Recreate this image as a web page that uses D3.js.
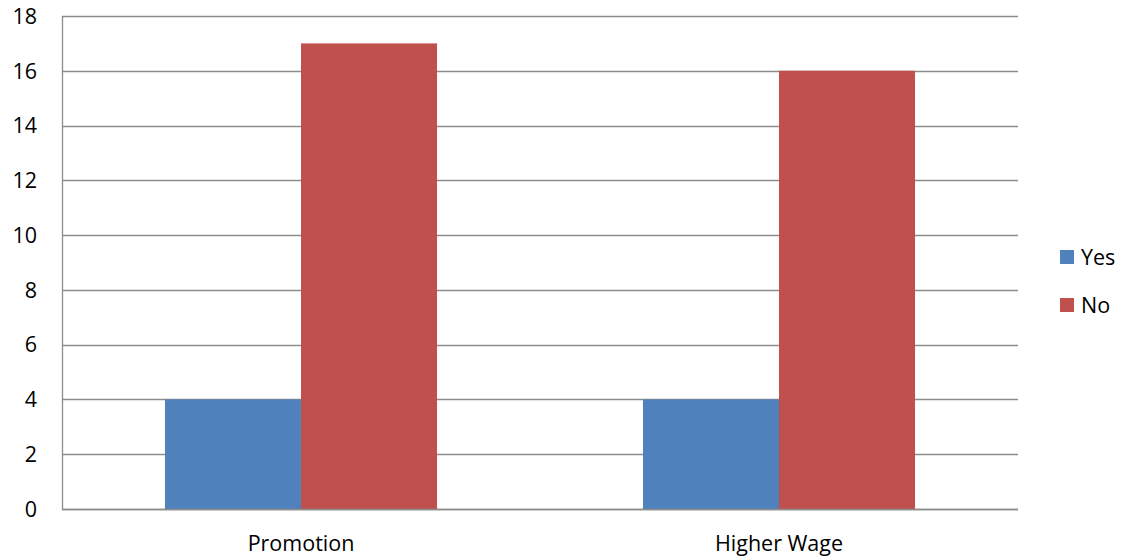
<!DOCTYPE html>
<html><head><meta charset="utf-8">
<script src="https://cdn.jsdelivr.net/npm/d3@7"></script>
<style>body{margin:0;background:#fff}svg{display:block}text{font-family:"Open Sans",Lato,sans-serif;fill:#000;font-variant-ligatures:none}</style>
</head><body><svg id="c" width="1122" height="560"></svg>
<script>
const categories = ["Promotion", "Higher Wage"];
const seriesNames = ["Yes", "No"];
const yesValues = [4, 4];
const noValues = [17, 16];
const yTicks = [0, 2, 4, 6, 8, 10, 12, 14, 16, 18];
const colors = ["#4F81BD", "#C0504D"];

const svg = d3.select("#c");
const L = 62, R = 1018, T = 16, B = 509;
const FS = "21.5px";
const x = d3.scaleBand().domain(categories).range([L, R]).paddingInner(0).paddingOuter(0);
const x1 = d3.scaleBand().domain(seriesNames).range([0, x.bandwidth()]).paddingInner(0).paddingOuter(0.757);
const y = d3.scaleLinear().domain([0, 18]).range([B, T]);
const data = categories.map((c, i) => ({cat: c, vals: [yesValues[i], noValues[i]]}));

// gridlines
svg.append("g").selectAll("line").data(yTicks).join("line")
  .attr("x1", L).attr("x2", R).attr("y1", d => Math.round(y(d)) + 0.5).attr("y2", d => Math.round(y(d)) + 0.5)
  .attr("stroke", "#8c8c8c").attr("stroke-width", 1.3);

// bars
const g = svg.append("g").selectAll("g").data(data).join("g")
  .attr("transform", d => `translate(${x(d.cat)},0)`);
g.selectAll("rect").data(d => d.vals.map((v, i) => ({s: seriesNames[i], v, i}))).join("rect")
  .attr("x", d => x1(d.s)).attr("width", x1.bandwidth())
  .attr("y", d => y(d.v)).attr("height", d => y(0) - y(d.v))
  .attr("fill", d => colors[d.i]);

// axes lines
svg.append("line").attr("x1", L + 0.5).attr("x2", L + 0.5).attr("y1", T).attr("y2", B + 1)
  .attr("stroke", "#8c8c8c").attr("stroke-width", 1.3);
svg.append("line").attr("x1", L).attr("x2", R).attr("y1", B + 0.5).attr("y2", B + 0.5)
  .attr("stroke", "#8c8c8c").attr("stroke-width", 1.3);

// y labels
svg.append("g").selectAll("text").data(yTicks).join("text")
  .attr("x", 37).attr("y", d => y(d)).attr("dy", "0.36em").attr("text-anchor", "end")
  .style("font-size", FS).text(d => d);

// x labels
svg.append("g").selectAll("text").data(categories).join("text")
  .attr("x", d => x(d) + x.bandwidth() / 2).attr("y", 551).attr("text-anchor", "middle")
  .style("font-size", FS).text(d => d);

// legend
const lg = svg.append("g").selectAll("g").data(seriesNames).join("g")
  .attr("transform", (d, i) => `translate(1060,${257 + i * 48})`);
lg.append("rect").attr("x", 0).attr("y", -7).attr("width", 14).attr("height", 14).attr("fill", (d, i) => colors[i]);
lg.append("text").attr("x", 21).attr("y", 0).attr("dy", "0.36em").style("font-size", FS).text(d => d);
</script></body></html>
